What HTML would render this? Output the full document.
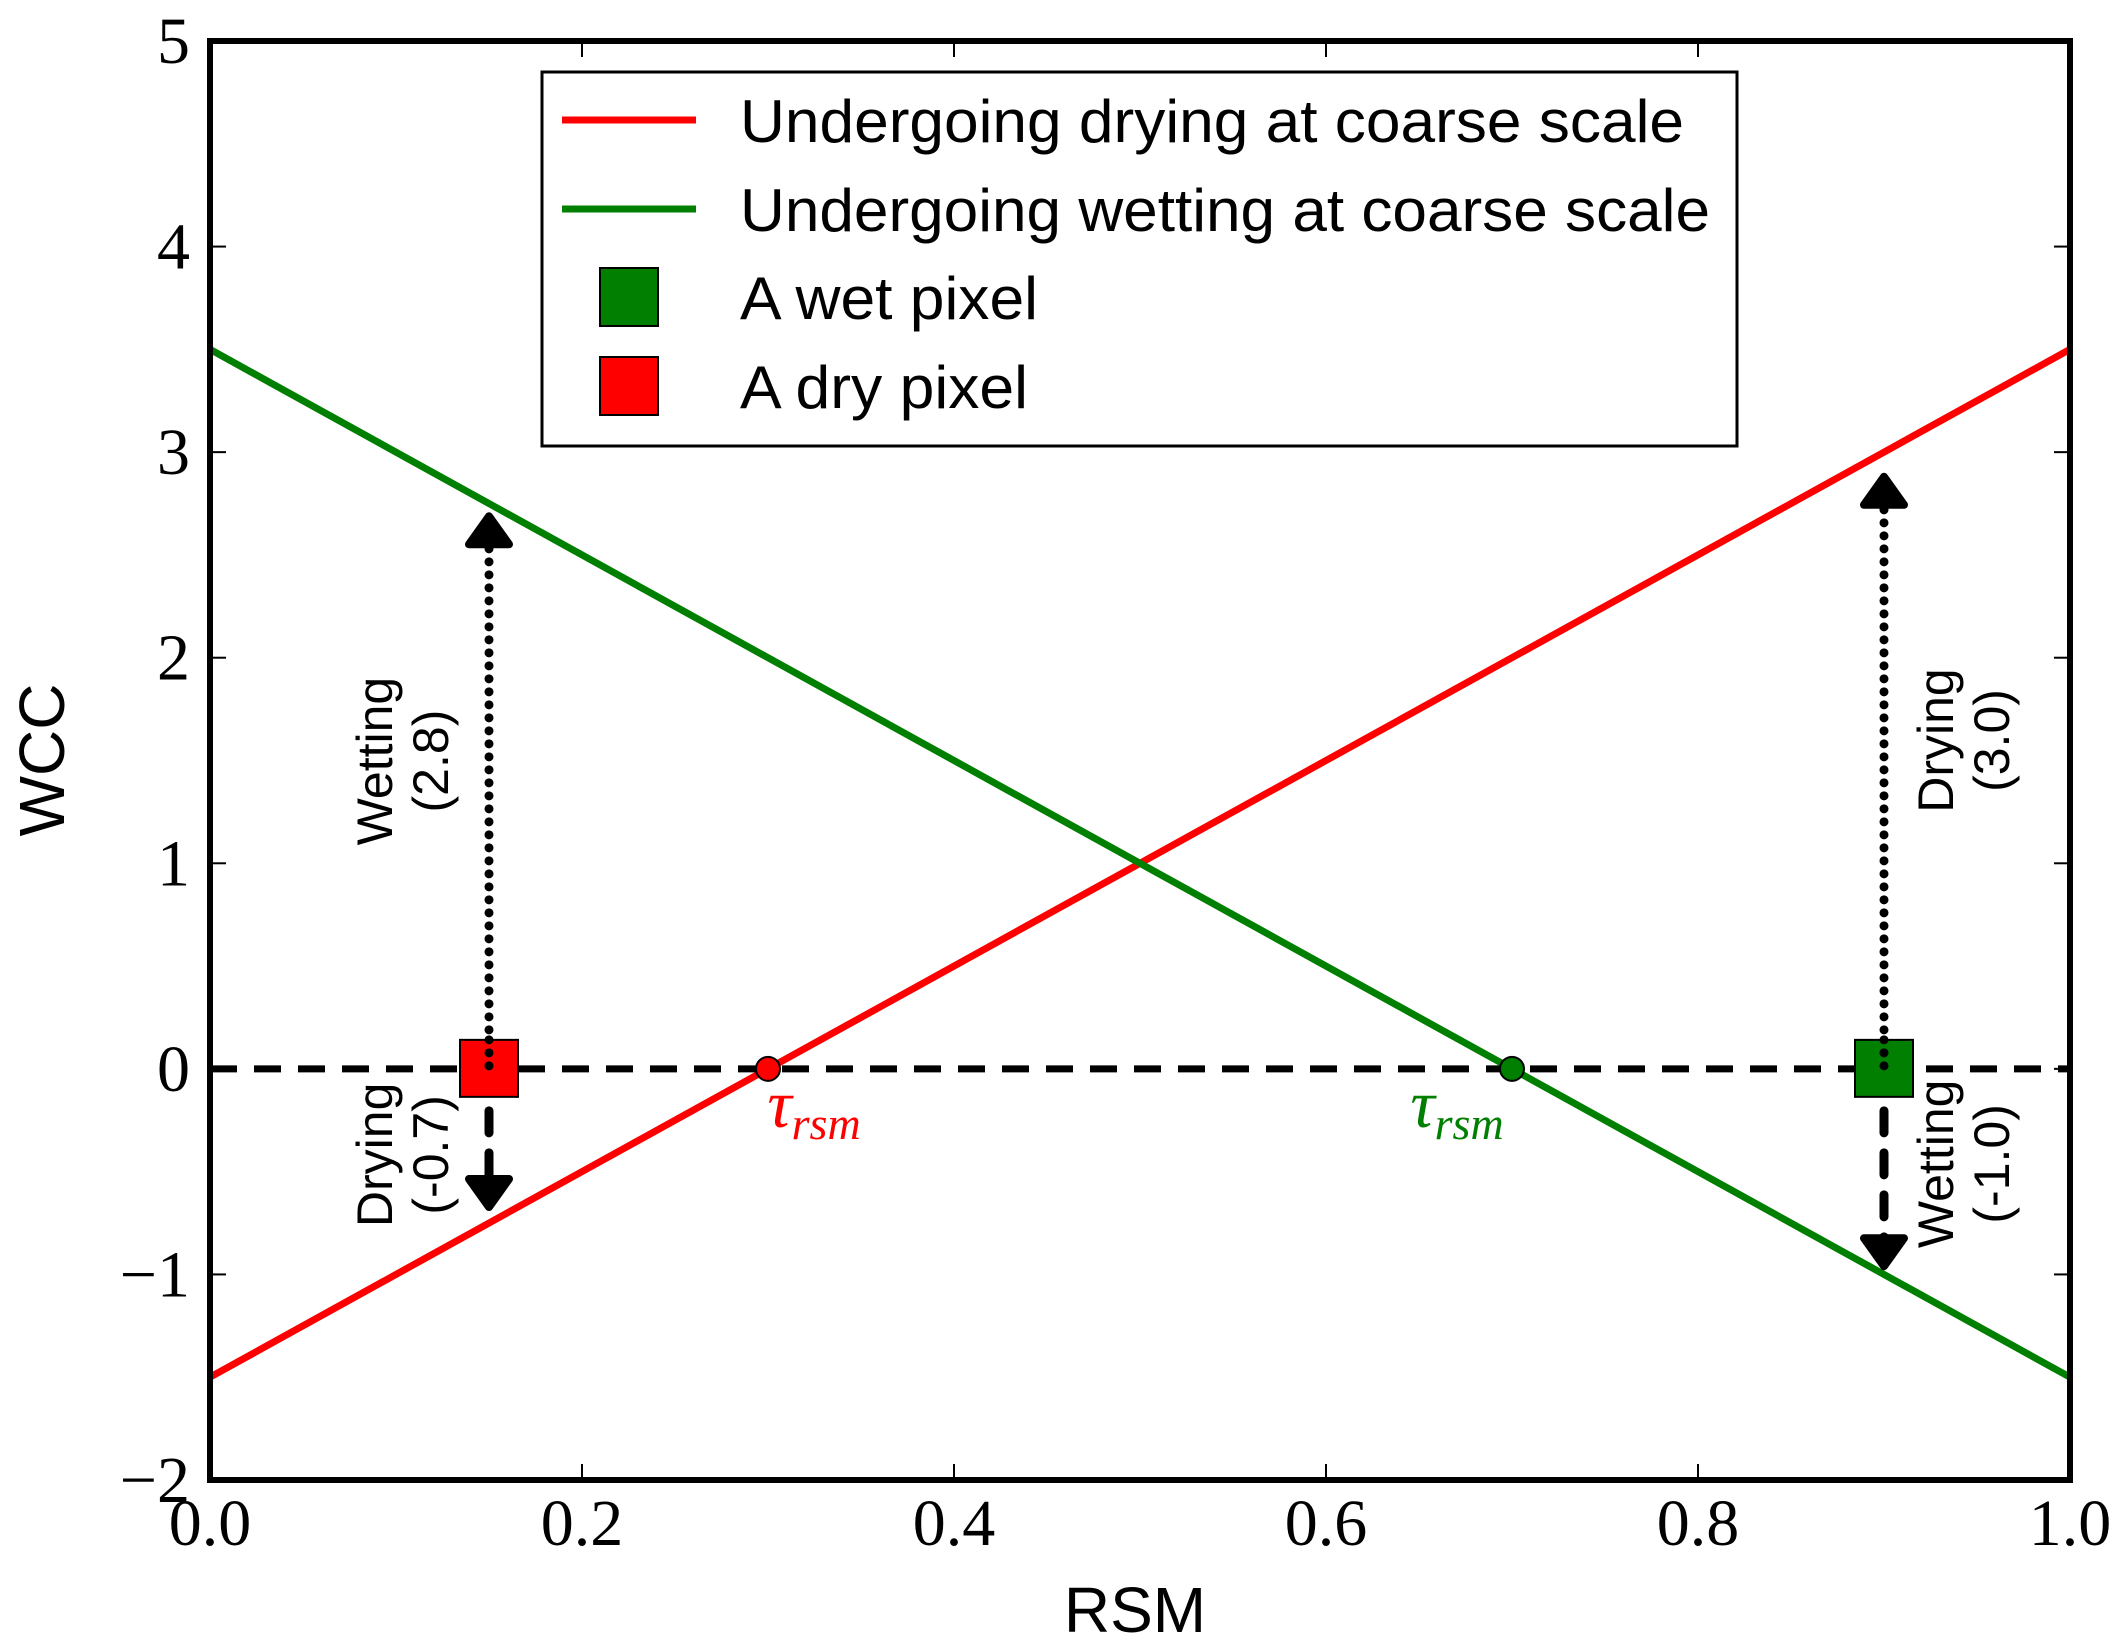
<!DOCTYPE html>
<html><head><meta charset="utf-8"><style>
html,body{margin:0;padding:0;background:#fff;}
svg{display:block;}
</style></head><body>
<svg id="chart" width="2118" height="1647" xmlns="http://www.w3.org/2000/svg">
<rect x="0" y="0" width="2118" height="1647" fill="#fff"/>
<g id="plot"></g>
</svg>
<script>
const xTicks = [0.0, 0.2, 0.4, 0.6, 0.8, 1.0];
const xTickLabels = ["0.0", "0.2", "0.4", "0.6", "0.8", "1.0"];
const yTicks = [-2, -1, 0, 1, 2, 3, 4, 5];
const yTickLabels = ["\u22122", "\u22121", "0", "1", "2", "3", "4", "5"];
const dryingLineX = [0.0, 1.0];
const dryingLineY = [-1.5, 3.5];
const wettingLineX = [0.0, 1.0];
const wettingLineY = [3.5, -1.5];
const thresholdX = [0.3, 0.7];
const thresholdColors = ["#ff0000", "#007f00"];
const pixelX = [0.15, 0.9];
const pixelColors = ["#ff0000", "#007f00"];
const arrowUp = [2.8, 3.0];
const arrowDown = [-0.7, -1.0];
const upLabels = [["Wetting", "(2.8)"], ["Drying", "(3.0)"]];
const downLabels = [["Drying", "(-0.7)"], ["Wetting", "(-1.0)"]];

const L = 210, R = 2070, T = 41, B = 1480;
const xMin = 0, xMax = 1, yMin = -2, yMax = 5;
const sx = v => L + (v - xMin) / (xMax - xMin) * (R - L);
const sy = v => B - (v - yMin) / (yMax - yMin) * (B - T);
const NS = "http://www.w3.org/2000/svg";
const g = document.getElementById('plot');
function mk(tag, attrs, parent) {
  const e = document.createElementNS(NS, tag);
  for (const k in attrs) e.setAttribute(k, attrs[k]);
  (parent || g).appendChild(e);
  return e;
}

let e = mk('line', {x1: sx(dryingLineX[0]), y1: sy(dryingLineY[0]), x2: sx(dryingLineX[1]), y2: sy(dryingLineY[1]), stroke: '#ff0000', 'stroke-width': 7});


e = mk('line', {x1: sx(wettingLineX[0]), y1: sy(wettingLineY[0]), x2: sx(wettingLineX[1]), y2: sy(wettingLineY[1]), stroke: '#007f00', 'stroke-width': 7});



e = mk('line', {x1: L, y1: sy(0), x2: R, y2: sy(0), stroke: '#000', 'stroke-width': 7, 'stroke-dasharray': '27,17'});



const tauOffset = [46, -55];
thresholdX.forEach((v, i) => {
  const c = mk('circle', {cx: sx(v), cy: sy(0), r: 12, fill: thresholdColors[i], stroke: '#000', 'stroke-width': 2});
  
  
  const t = mk('text', {x: sx(v) + tauOffset[i], y: sy(0) + 58, 'text-anchor': 'middle', fill: thresholdColors[i], 'font-family': '"Liberation Serif", serif', 'font-style': 'italic', 'font-size': 68});
  
  
  t.appendChild(document.createTextNode('\u03C4'));
  const s = mk('tspan', {'font-size': 46, dy: 12}, t);
  s.appendChild(document.createTextNode('rsm'));
});

function arrow(x, v, dotted, name) {
  const y0 = sy(0), tipY = sy(v * 0.96);
  const dir = tipY < y0 ? -1 : 1;
  const headLen = 28;
  const ln = mk('line', {x1: sx(x), y1: y0, x2: sx(x), y2: tipY - dir * headLen, stroke: '#000', 'stroke-width': dotted ? 9 : 9,
    'stroke-linecap': 'round', 'stroke-dasharray': dotted ? '0,13' : '22,20'});
  
  
  const hx = sx(x);
  const p = mk('path', {d: `M${hx - 20},${tipY - dir * headLen} L${hx + 20},${tipY - dir * headLen} L${hx},${tipY} Z`, fill: '#000', stroke: '#000', 'stroke-width': 8, 'stroke-linejoin': 'round'});
  
  
}
function vlabel(cx, cy, lines, name) {
  const t = mk('text', {x: cx, y: cy, 'text-anchor': 'middle', transform: `rotate(-90 ${cx} ${cy})`, 'font-family': '"Liberation Sans", sans-serif', 'font-size': 50, fill: '#000'});
  
  
  const a = mk('tspan', {x: cx, dy: -12}, t); a.appendChild(document.createTextNode(lines[0]));
  const b = mk('tspan', {x: cx, dy: 56}, t); b.appendChild(document.createTextNode(lines[1]));
}
const labelOffset = [-85, 81];
const downShift = [86, 95];
pixelX.forEach((px, i) => {
  arrow(px, arrowUp[i], true, 'arrow-up-' + i);
  arrow(px, arrowDown[i], false, 'arrow-down-' + i);
  const cx = sx(px) + labelOffset[i];
  vlabel(cx, sy(arrowUp[i] / 2) - 20, upLabels[i], 'up-label-' + i);
  vlabel(cx, sy(0) + downShift[i], downLabels[i], 'down-label-' + i);
});
pixelX.forEach((px, i) => {
  const r = mk('rect', {x: sx(px) - 29, y: sy(0) - 29, width: 58, height: 57, fill: pixelColors[i], stroke: '#000', 'stroke-width': 2});
  
  
});
pixelX.forEach((px, i) => {
  const ln = mk('line', {x1: sx(px), y1: sy(0) - 29, x2: sx(px), y2: sy(0) + 10, stroke: '#000', 'stroke-width': 9, 'stroke-linecap': 'round', 'stroke-dasharray': '0,13'});
  
  
});

e = mk('rect', {x: L, y: T, width: R - L, height: B - T, fill: 'none', stroke: '#000', 'stroke-width': 6});


xTicks.forEach((v, i) => {
  const x = sx(v);
  const t1 = mk('line', {x1: x, y1: B, x2: x, y2: B - 16, stroke: '#000', 'stroke-width': 2});
  
  
  const t2 = mk('line', {x1: x, y1: T, x2: x, y2: T + 16, stroke: '#000', 'stroke-width': 2});
  
  
  const lb = mk('text', {x: x, y: 1545, 'text-anchor': 'middle', 'font-family': '"Liberation Serif", serif', 'font-size': 66});
  
  
  lb.textContent = xTickLabels[i];
});
yTicks.forEach((v, i) => {
  const y = sy(v);
  const t1 = mk('line', {x1: L, y1: y, x2: L + 16, y2: y, stroke: '#000', 'stroke-width': 2});
  
  
  const t2 = mk('line', {x1: R, y1: y, x2: R - 16, y2: y, stroke: '#000', 'stroke-width': 2});
  
  
  const lb = mk('text', {x: 190, y: y + 22, 'text-anchor': 'end', 'font-family': '"Liberation Serif", serif', 'font-size': 66});
  
  
  lb.textContent = yTickLabels[i];
});

e = mk('text', {x: 1135, y: 1632, 'text-anchor': 'middle', 'font-family': '"Liberation Sans", sans-serif', 'font-size': 64});


e.textContent = 'RSM';
e = mk('text', {x: 64, y: 760, 'text-anchor': 'middle', transform: 'rotate(-90 64 760)', 'font-family': '"Liberation Sans", sans-serif', 'font-size': 64});


e.textContent = 'WCC';

const lg = mk('g', {});


e = mk('rect', {x: 542, y: 72, width: 1195, height: 374, fill: '#fff', stroke: '#000', 'stroke-width': 3}, lg);


const legRows = [
  {y: 120, type: 'line', color: '#ff0000', text: 'Undergoing drying at coarse scale', w: 944},
  {y: 209, type: 'line', color: '#007f00', text: 'Undergoing wetting at coarse scale', w: 970},
  {y: 297, type: 'box', color: '#007f00', text: 'A wet pixel', w: 298},
  {y: 386, type: 'box', color: '#ff0000', text: 'A dry pixel', w: 288}
];
legRows.forEach(r => {
  let m;
  if (r.type === 'line') m = mk('line', {x1: 562, y1: r.y, x2: 696, y2: r.y, stroke: r.color, 'stroke-width': 7}, lg);
  else m = mk('rect', {x: 600, y: r.y - 29, width: 58, height: 58, fill: r.color, stroke: '#000', 'stroke-width': 2}, lg);
  
  
  const t = mk('text', {x: 740, y: r.y + 22, 'font-family': '"Liberation Sans", sans-serif', 'font-size': 60, textLength: r.w, lengthAdjust: 'spacingAndGlyphs'}, lg);
  
  
  t.textContent = r.text;
});
</script>
</body></html>
